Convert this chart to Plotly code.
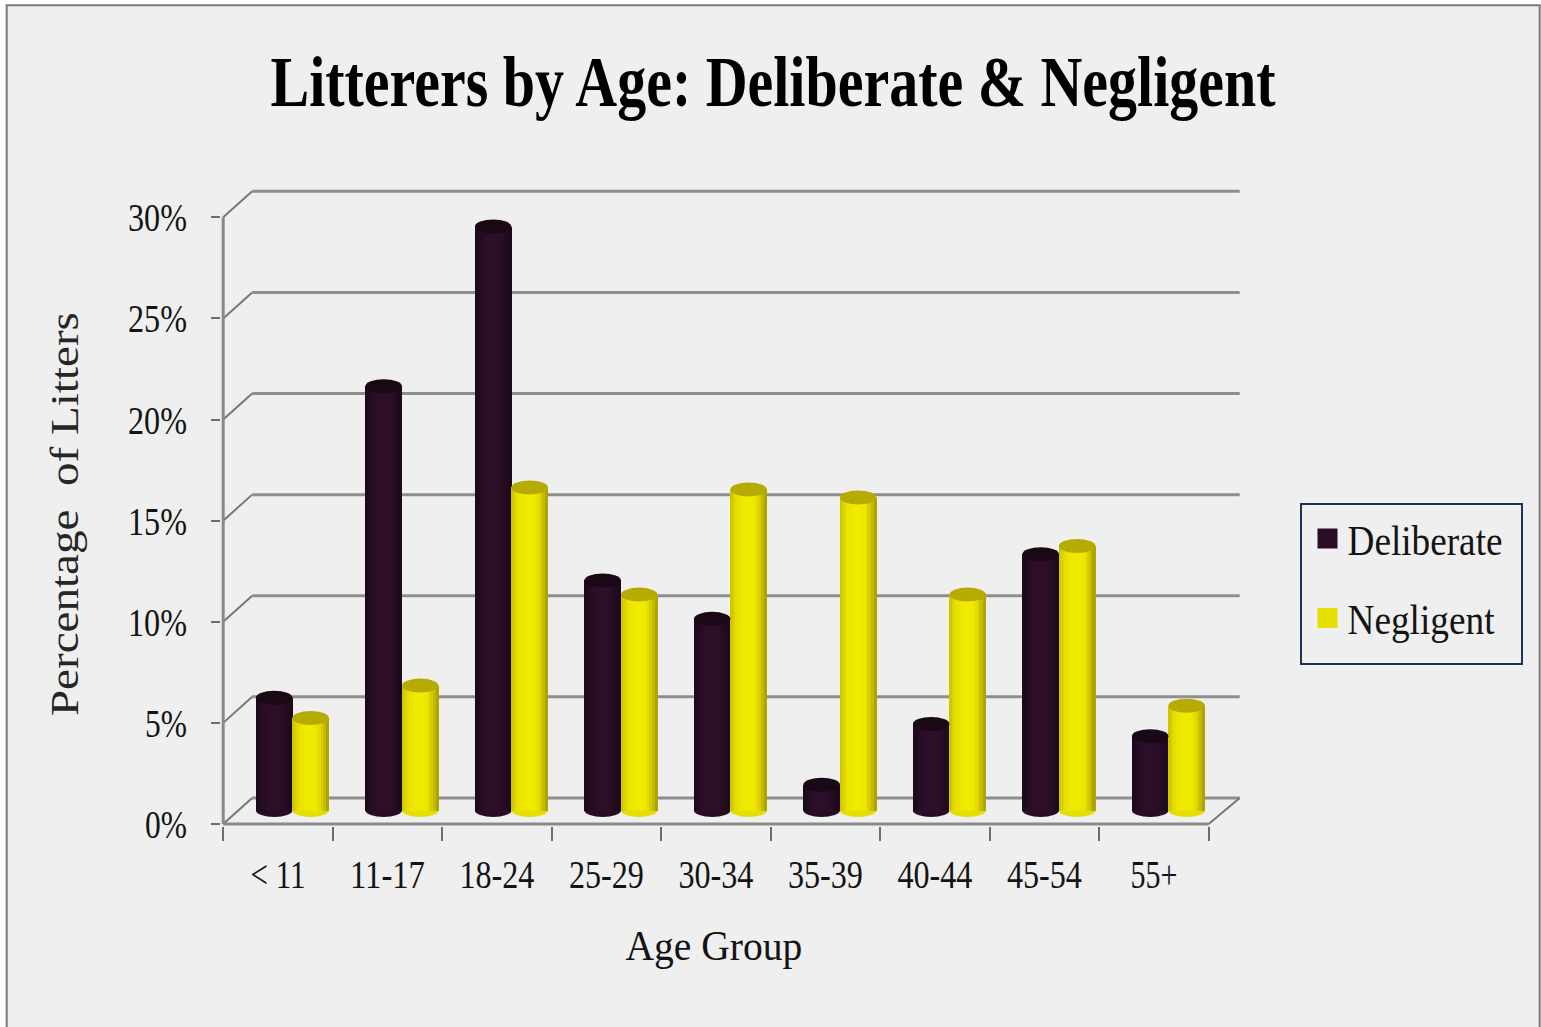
import json
import plotly.graph_objects as go

# Survey values, percent of litters per age group
age_groups = ["< 11", "11-17", "18-24", "25-29", "30-34", "35-39", "40-44", "45-54", "55+"]
deliberate = [5.6, 21.0, 28.9, 11.4, 9.5, 1.3, 4.3, 12.7, 3.7]
negligent = [4.6, 6.2, 16.0, 10.7, 15.9, 15.5, 10.7, 13.1, 5.2]
y_ticks = [0, 5, 10, 15, 20, 25, 30]
y_tick_labels = ["0%", "5%", "10%", "15%", "20%", "25%", "30%"]

# Pixel geometry of the plotting box
W, H = 1541, 1027
PX_X, PX_Y = 109.5, 20.19
X_MIN, Y_MIN = -0.02, -0.1
X_MAX, Y_MAX = 9.35, 31.6
X0 = 223.5 + X_MIN * PX_X
Y0 = 823.5 - Y_MIN * PX_Y
PLOT_W = (X_MAX - X_MIN) * PX_X
PLOT_H = (Y_MAX - Y_MIN) * PX_Y

# Oblique depth of the chart box, in axis units
DEPTH_Y = 26 / PX_Y
DEPTH_X_LEFT = 29 / PX_X
DEPTH_X_RIGHT = 31 / PX_X
MID_X, MID_Y = 14.5 / PX_X, 13 / PX_Y
BAR_W = 36.5 / PX_X
CAP_H = 7 / PX_Y

# Shading across each cylinder, left edge to right edge
dark_shades = ["#1c0a1c", "#200b1e", "#240c22", "#280d25", "#2b0e28", "#2d0e29", "#2e0f2a",
               "#2e0f2a", "#2d0e29", "#2b0e28", "#280d25", "#240c22", "#200b1e", "#1c0a1c"]
yellow_shades = ["#cfc600", "#dcd400", "#e6de00", "#ebe400", "#eee800", "#efe900", "#f0ea00",
                 "#f0ea00", "#efe900", "#ece600", "#e4dc00", "#d6cd00", "#c4ba00", "#b0a500"]

GRID = "#8e8e8e"
LINE = "#8a8a8a"
TEXT = "#141414"

fig = go.Figure()
shapes = []

# Page panel with its grey outline
shapes.append(dict(type="rect", xref="paper", yref="paper", layer="below",
                   x0=(7 - X0) / PLOT_W, x1=(1540 - X0) / PLOT_W,
                   y0=-1, y1=(Y0 - 6) / PLOT_H,
                   fillcolor="#efefef", line=dict(color="#7a7a7a", width=2)))

# Back wall gridlines and their slanted returns on the side wall
for v in y_ticks:
    shapes.append(dict(type="line", layer="below", xref="x", yref="y",
                       x0=0, y0=v, x1=DEPTH_X_LEFT, y1=v + DEPTH_Y,
                       line=dict(color="#777777", width=2)))
    shapes.append(dict(type="line", layer="below", xref="x", yref="y",
                       x0=DEPTH_X_LEFT, y0=v + DEPTH_Y, x1=9 + DEPTH_X_RIGHT, y1=v + DEPTH_Y,
                       line=dict(color=GRID, width=3)))

# Front edges of the box and the floor's right edge
shapes.append(dict(type="line", layer="below", xref="x", yref="y", x0=0, y0=0, x1=0, y1=30,
                   line=dict(color=LINE, width=3)))
shapes.append(dict(type="line", layer="below", xref="x", yref="y", x0=0, y0=0, x1=9, y1=0,
                   line=dict(color=LINE, width=3)))
shapes.append(dict(type="line", layer="below", xref="x", yref="y",
                   x0=9, y0=0, x1=9 + DEPTH_X_RIGHT, y1=DEPTH_Y,
                   line=dict(color="#777777", width=2)))


def add_cylinders(values, side, shades, cap_color, foot_color):
    """Draw one series as shaded cylinders: vertical strips plus elliptical ends."""
    n = len(shades)
    strip = BAR_W / n
    for k, color in enumerate(shades):
        left_edge = [i + 0.5 + MID_X + (0 if side > 0 else -BAR_W) + k * strip
                     for i in range(len(values))]
        fig.add_trace(go.Bar(x=[e + strip / 2 for e in left_edge], y=values, base=MID_Y,
                             width=strip * 1.25, marker=dict(color=color, line=dict(width=0)),
                             showlegend=False, hoverinfo="skip"))
    for i, v in enumerate(values):
        xa = i + 0.5 + MID_X + (0 if side > 0 else -BAR_W)
        shapes.append(dict(type="circle", layer="below", xref="x", yref="y",
                           x0=xa, x1=xa + BAR_W, y0=MID_Y - CAP_H + 0.05, y1=MID_Y + CAP_H,
                           fillcolor=foot_color, line=dict(width=0)))
        shapes.append(dict(type="circle", layer="above", xref="x", yref="y",
                           x0=xa, x1=xa + BAR_W, y0=v + MID_Y - CAP_H, y1=v + MID_Y + CAP_H,
                           fillcolor=cap_color, line=dict(width=0)))


add_cylinders(deliberate, -1, dark_shades, "#1b0817", "#280d25")
add_cylinders(negligent, 1, yellow_shades, "#b6ab00", "#e6de00")

# Legend swatches
fig.add_trace(go.Scatter(x=[None], y=[None], mode="markers", name="Deliberate", legendgroup="d",
                         marker=dict(symbol="square", size=16, color="#2a0c26",
                                     line=dict(color="#2a0c26", width=4))))
fig.add_trace(go.Scatter(x=[None], y=[None], mode="markers", name="Negligent", legendgroup="n",
                         marker=dict(symbol="square", size=16, color="#e6e000",
                                     line=dict(color="#e6e000", width=4))))

FONT = "Liberation Serif"
title_text = "Litterers by Age: Deliberate & Negligent"
x_title = "Age Group"
y_title = "Percentage \u00a0of Litters"

fig.update_layout(
    width=W, height=H, autosize=False,
    margin=dict(l=X0, r=W - X0 - PLOT_W, t=Y0 - PLOT_H, b=H - Y0, pad=0),
    paper_bgcolor="#ffffff", plot_bgcolor="rgba(0,0,0,0)",
    barmode="overlay", bargap=0,
    font=dict(family=FONT, color=TEXT),
    title=dict(text=title_text, x=773 / W, xanchor="center", xref="container",
               y=1 - 81.5 / H, yanchor="middle", yref="container",
               font=dict(family=FONT, size=71, color="#000000", weight="bold")),
    xaxis=dict(range=[X_MIN, X_MAX], showgrid=False, zeroline=False, showline=False,
               tickmode="array", tickvals=[i + 0.5 for i in range(len(age_groups))],
               ticktext=age_groups, ticks="", tickfont=dict(size=40, color=TEXT),
               ticklabelstandoff=21,
               minor=dict(tickmode="array", tickvals=list(range(10)), ticks="outside",
                          ticklen=14, tickwidth=2, tickcolor="#6e6e6e", showgrid=False)),
    yaxis=dict(range=[Y_MIN, Y_MAX], showgrid=False, zeroline=False, showline=False,
               tickmode="array", tickvals=y_ticks, ticktext=y_tick_labels, ticks="outside",
               ticklen=9, tickwidth=2, tickcolor="#6e6e6e",
               tickfont=dict(size=40, color=TEXT), ticklabelstandoff=16),
    legend=dict(xref="container", yref="container", x=1299.5 / W, y=1 - 502.7 / H,
                xanchor="left", yanchor="top", bgcolor="rgba(0,0,0,0)",
                bordercolor="#1f3358", borderwidth=2, indentation=6,
                font=dict(family=FONT, size=42, color=TEXT),
                entrywidth=154, entrywidthmode="pixels", tracegroupgap=22,
                itemsizing="trace", traceorder="grouped"),
    shapes=shapes,
    annotations=[
        dict(text=x_title, xref="paper", yref="paper", showarrow=False,
             x=(714 - X0) / PLOT_W, y=(Y0 - 945) / PLOT_H,
             xanchor="center", yanchor="middle", font=dict(size=42, color=TEXT)),
        dict(text=y_title, xref="paper", yref="paper", showarrow=False, textangle=-90,
             x=(64 - X0) / PLOT_W, y=(Y0 - 514) / PLOT_H,
             xanchor="center", yanchor="middle", font=dict(size=40, color="#262626")),
    ],
)

# Condense the serif labels horizontally to their set widths and size the legend frame
text_widths = {title_text: 1005, x_title: 177, y_title: 404, "Deliberate": 155, "Negligent": 147,
               "< 11": 55, "55+": 47}
text_widths.update({label: 75 for label in age_groups[1:-1]})
text_widths.update({label: 59 if len(label) == 3 else 42 for label in y_tick_labels})
condense = """
var gd = document.getElementById('{plot_id}');
var widths = %s;
gd.querySelectorAll('text').forEach(function (t) {
  var w = widths[t.textContent];
  if (w) {
    t.setAttribute('textLength', w);
    t.setAttribute('lengthAdjust', 'spacingAndGlyphs');
  }
});
var frame = gd.querySelector('.legend rect.bg');
if (frame) {
  frame.setAttribute('width', 221);
  frame.setAttribute('height', 160);
}
""" % json.dumps(text_widths)

fig.write_html("out.html", post_script=condense)
